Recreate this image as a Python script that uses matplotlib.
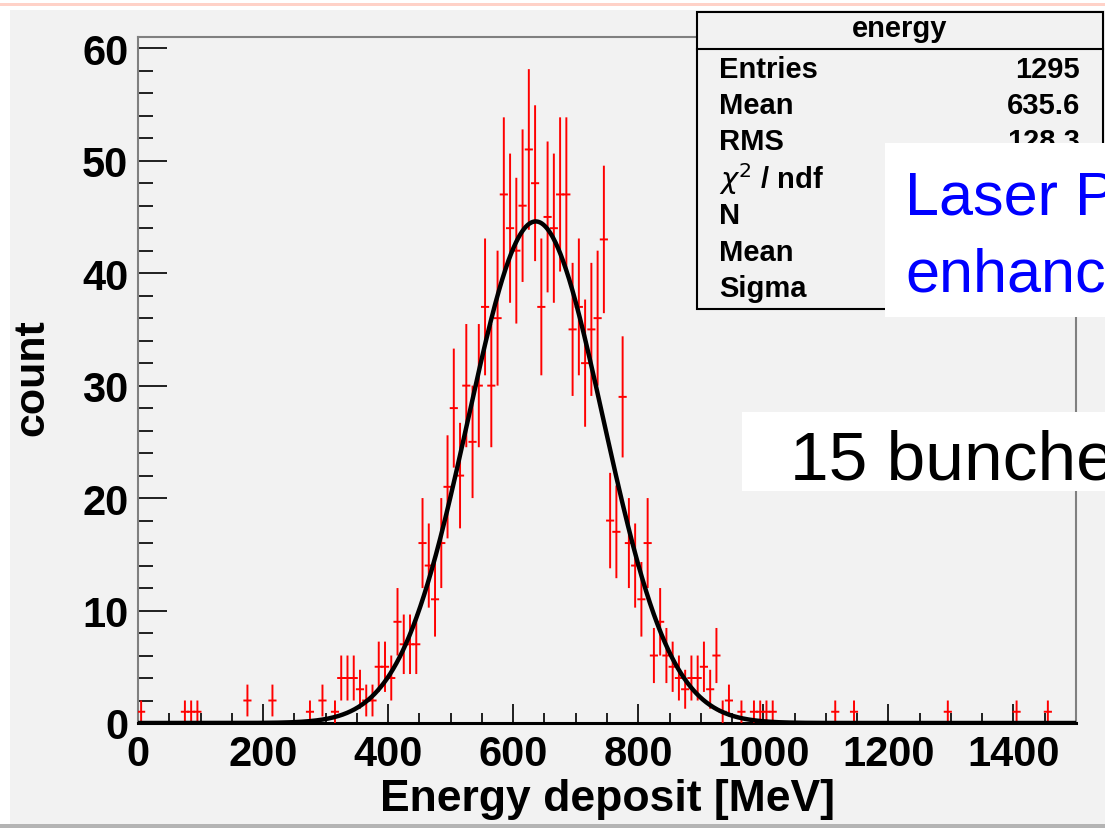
import numpy as np
import matplotlib
matplotlib.use("Agg")
import matplotlib.pyplot as plt
from matplotlib.patches import Rectangle
from matplotlib.lines import Line2D

# ---------------- data ----------------
bin_width = 10.0
# lower edge (MeV) of each non-empty bin and its count
bin_low = [0, 70, 80, 90, 170, 210, 270, 290, 310, 320, 330, 340, 350, 360, 370,
           380, 390, 400, 410, 420, 430, 440, 450, 460, 470, 480, 490, 500, 510,
           520, 530, 540, 550, 560, 570, 580, 590, 600, 610, 620, 630, 640, 650,
           660, 670, 680, 690, 700, 710, 720, 730, 740, 750, 760, 770, 780, 790,
           800, 810, 820, 830, 840, 850, 860, 870, 880, 890, 900, 910, 920, 930,
           940, 960, 980, 990, 1000, 1010, 1110, 1140, 1290, 1400, 1450]
counts = [1, 1, 1, 1, 2, 2, 1, 2, 1, 4, 4, 4, 3, 2, 2,
          5, 5, 4, 9, 7, 7, 7, 16, 14, 11, 16, 21, 28, 22,
          30, 25, 30, 37, 30, 36, 47, 44, 42, 46, 51, 48, 37, 45,
          44, 47, 47, 35, 37, 32, 35, 36, 43, 18, 17, 29, 16, 14,
          11, 16, 6, 9, 6, 5, 4, 3, 4, 4, 5, 3, 6, 1,
          2, 1, 1, 1, 1, 1, 1, 1, 1, 1, 1]

fit_N = 44.6
fit_mean = 636.0
fit_sigma = 108.0

x_ticks = [0, 200, 400, 600, 800, 1000, 1200, 1400]
y_ticks = [0, 10, 20, 30, 40, 50, 60]

stats_title = "energy"
stats_labels = ["Entries", "Mean", "RMS", r"$\chi^{2}$ / ndf", "N", "Mean", "Sigma"]
stats_values = ["1295", "635.6", "128.3", "", "", "", ""]

# ---------------- figure ----------------
W, H = 1105, 829
fig = plt.figure(figsize=(W / 100, H / 100), dpi=100)
fig.patch.set_facecolor("white")

def fx(px):
    return px / W

def fy(py):
    return 1 - py / H

# slide-like background
fig.patches.append(Rectangle((fx(10), fy(826)), fx(1105) - fx(10), fy(11) - fy(826),
                             transform=fig.transFigure, facecolor="#f2f2f2",
                             edgecolor="none", zorder=-10))
fig.patches.append(Rectangle((0, fy(829)), 1, fy(825) - fy(829),
                             transform=fig.transFigure, facecolor="#b4b4b4",
                             edgecolor="none", zorder=-9))
fig.patches.append(Rectangle((0, fy(7)), 1, fy(4) - fy(7),
                             transform=fig.transFigure, facecolor="#ffd2c8",
                             edgecolor="none", zorder=-9))

FONT = "Liberation Sans"

ax = fig.add_axes([fx(138), fy(724), fx(1076) - fx(138), fy(38) - fy(724)])
ax.set_facecolor("#f2f2f2")
ax.set_xlim(0, 1500)
ax.set_ylim(0, 61)

# histogram error bars
lows = np.array(bin_low, dtype=float)
cnt = np.array(counts, dtype=float)
centers = lows + bin_width / 2
err = np.sqrt(cnt)
vl = ax.vlines(centers, cnt - err, cnt + err, colors="#ff0000", lw=1.4, zorder=3)
hl = ax.hlines(cnt, lows - 1.5, lows + bin_width + 1.5, colors="#ff0000", lw=1.4, zorder=3)
vl.set_snap(False)
hl.set_snap(False)

# gaussian fit
xf = np.linspace(0, 1500, 1500)
yf = fit_N * np.exp(-0.5 * ((xf - fit_mean) / fit_sigma) ** 2)
ax.plot(xf, yf, color="black", lw=3.2, zorder=4, clip_on=True)

# axes styling
for s in ["left", "top", "right"]:
    ax.spines[s].set_color("#808080")
    ax.spines[s].set_linewidth(1.5)
ax.spines["bottom"].set_color("black")
ax.spines["bottom"].set_linewidth(2.2)

ax.set_xticks(x_ticks)
ax.set_yticks(y_ticks)
ax.set_xticks(np.arange(0, 1501, 50), minor=True)
ax.set_yticks(np.arange(0, 61, 2), minor=True)
ax.tick_params(axis="both", which="both", direction="in", top=False, right=False,
               colors="#202020")
ax.tick_params(axis="y", which="major", length=21, width=1.4, pad=7)
ax.tick_params(axis="y", which="minor", length=11, width=1.4)
ax.tick_params(axis="x", which="major", length=14, width=1.4, pad=8)
ax.tick_params(axis="x", which="minor", length=7, width=1.4)
for lab in ax.get_xticklabels() + ax.get_yticklabels():
    lab.set_fontfamily(FONT)
    lab.set_fontweight("bold")
    lab.set_fontsize(30)
    lab.set_color("black")

fig.text(fx(607), fy(800), "Energy deposit [MeV]", fontfamily=FONT, fontweight="bold",
         fontsize=32, ha="center", va="center")
fig.text(fx(32), fy(378), "count", fontfamily=FONT, fontweight="bold",
         fontsize=31, ha="center", va="center", rotation=90)

# stats box
bx0, by0, bx1, by1 = 697, 13, 1103, 310
fig.patches.append(Rectangle((fx(bx0), fy(by1)), fx(bx1) - fx(bx0), fy(by0) - fy(by1),
                             transform=fig.transFigure, facecolor="#f2f2f2",
                             edgecolor="black", lw=1.5, zorder=6))
fig.lines.append(Line2D([fx(bx0), fx(bx1)], [fy(50), fy(50)], transform=fig.transFigure,
                        color="black", lw=1.5, zorder=7))
fig.text(fx((bx0 + bx1) / 2), fy(29), stats_title, fontfamily=FONT, fontweight="bold",
         fontsize=21, ha="center", va="center", zorder=7)
row_y = [70, 106, 142, 179, 216, 253, 289]
for lab, val, yy in zip(stats_labels, stats_values, row_y):
    fig.text(fx(719), fy(yy), lab, fontfamily=FONT, fontweight="bold", fontsize=21,
             ha="left", va="center", zorder=7)
    if val:
        fig.text(fx(1080), fy(yy), val, fontfamily=FONT, fontweight="bold", fontsize=21,
                 ha="right", va="center", zorder=7)

# overlay boxes (slide annotations, cut by the slide edge as in the original)
fig.patches.append(Rectangle((fx(885), fy(318)), fx(1105) - fx(885), fy(144) - fy(318),
                             transform=fig.transFigure, facecolor="white",
                             edgecolor="none", zorder=8))
fig.text(fx(905), fy(215), "Laser Pulse", fontfamily=FONT, fontsize=44, color="#0000ff",
         ha="left", va="baseline", zorder=9)
fig.text(fx(905), fy(292), "enhancement", fontfamily=FONT, fontsize=44, color="#0000ff",
         ha="left", va="baseline", zorder=9)

fig.patches.append(Rectangle((fx(742), fy(492)), fx(1105) - fx(742), fy(413) - fy(492),
                             transform=fig.transFigure, facecolor="white",
                             edgecolor="none", zorder=8))
fig.text(fx(790), fy(480), "15 bunches", fontfamily=FONT, fontsize=50, color="black",
         ha="left", va="baseline", zorder=9)

fig.savefig("out.png", dpi=100, facecolor=fig.get_facecolor())
